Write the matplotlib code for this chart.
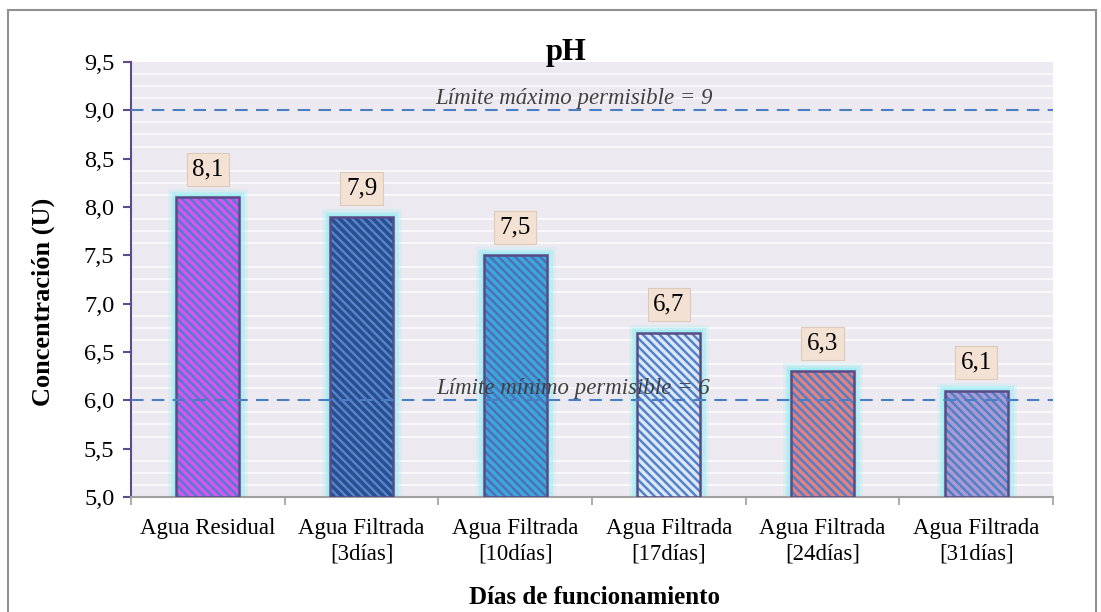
import matplotlib
matplotlib.use("Agg")
import matplotlib.pyplot as plt
from matplotlib.patches import Rectangle
import numpy as np

categories = ["Agua Residual", "Agua Filtrada\n[3días]", "Agua Filtrada\n[10días]",
              "Agua Filtrada\n[17días]", "Agua Filtrada\n[24días]", "Agua Filtrada\n[31días]"]
values = [8.1, 7.9, 7.5, 6.7, 6.3, 6.1]
value_labels = ["8,1", "7,9", "7,5", "6,7", "6,3", "6,1"]
yticks = [5.0, 5.5, 6.0, 6.5, 7.0, 7.5, 8.0, 8.5, 9.0, 9.5]
ytick_labels = ["5,0", "5,5", "6,0", "6,5", "7,0", "7,5", "8,0", "8,5", "9,0", "9,5"]
limit_max = 9
limit_min = 6

face_colors = ["#D455F2", "#2A4E8E", "#3CA8D8", "#DCE8F8", "#E08282", "#A99BD2"]
stripe_colors = ["#4F7FC8", "#5585CC", "#4E6EBA", "#4F80C8", "#4F7FC8", "#4F7FC8"]

plt.rcParams["font.family"] = ["Liberation Serif", "DejaVu Serif"]
plt.rcParams["hatch.linewidth"] = 1.7

fig = plt.figure(figsize=(11.01, 6.12), dpi=100)
ax = fig.add_axes([0.119, 0.188, 0.8374, 0.7107])

ax.set_facecolor("#ECEAF0")
ax.set_ylim(5.0, 9.5)
x = np.arange(len(categories))
ax.set_xlim(-0.5, len(categories) - 0.5)

# faint background stripes
ax.set_yticks(np.arange(5.0, 9.5, 0.125), minor=True)
ax.grid(True, which="minor", axis="y", color="white", linewidth=1.2, alpha=0.8)
ax.grid(False, which="major")
ax.set_axisbelow(True)

width = 0.41
heights = np.array(values) - 5.0
# glow
for lw, a in [(12, 0.2), (8, 0.35), (4, 0.6)]:
    ax.bar(x, heights, width, bottom=5.0, color="none",
           edgecolor="#8EEFF4", linewidth=lw, alpha=a, zorder=2)
# hatched fill
for i in range(len(values)):
    ax.bar(x[i], heights[i], width, bottom=5.0, color=face_colors[i],
           edgecolor=stripe_colors[i], linewidth=0, hatch="\\\\\\\\", zorder=3)
# outline
ax.bar(x, heights, width, bottom=5.0, color="none",
       edgecolor="#5A4A85", linewidth=1.8, zorder=4)

# data labels
for i, v in enumerate(values):
    ax.annotate(value_labels[i], (x[i], v), xytext=(0, 20), textcoords="offset points",
                ha="center", va="center", fontsize=18, color="black", zorder=6,
                bbox=dict(boxstyle="square,pad=0.22", fc="#F3E2D3", ec="#DCCBBB", lw=0.8))

# limit lines
ax.axhline(limit_max, color="#4A7EC4", linewidth=1.5, linestyle=(0, (6, 4)), zorder=5, clip_on=False)
ax.axhline(limit_min, color="#4A7EC4", linewidth=1.5, linestyle=(0, (6, 4)), zorder=5, clip_on=False)
ax.text(2.38, limit_max + 0.01, "Límite máximo permisible = 9", ha="center", va="bottom",
        fontsize=16.5, style="italic", color="#404040", zorder=6)
ax.text(2.38, limit_min + 0.01, "Límite mínimo permisible = 6", ha="center", va="bottom",
        fontsize=16.5, style="italic", color="#404040", zorder=6)

# axes styling
ax.set_yticks(yticks)
ax.set_yticklabels(ytick_labels, fontsize=17.5)
ax.set_xticks(x)
ax.set_xticklabels(categories, fontsize=16.5, linespacing=1.3)
ax.set_xticks(np.arange(-0.5, len(categories), 1.0), minor=True)
ax.tick_params(axis="x", which="major", length=0, pad=15)
ax.tick_params(axis="x", which="minor", length=6, color="#A0A0A0", width=1.2)
ax.tick_params(axis="y", which="major", length=6, color="#5F4B8B", width=1.5, direction="out", pad=6)
ax.tick_params(axis="y", which="minor", length=0)
for s in ["top", "right"]:
    ax.spines[s].set_visible(False)
ax.spines["left"].set_color("#5F4B8B")
ax.spines["left"].set_linewidth(1.5)
ax.spines["bottom"].set_color("#A0A0A0")
ax.spines["bottom"].set_linewidth(1.5)

fig.text(0.039, 0.507, "Concentración (U)", ha="center", va="center", rotation=90,
         fontsize=19, fontweight="bold")
fig.text(0.54, 0.023, "Días de funcionamiento", ha="center", va="center",
         fontsize=18, fontweight="bold")
fig.text(0.514, 0.915, "pH", ha="center", va="center", fontsize=22, fontweight="bold")

# outer border
fig.patches.append(Rectangle((0.0075, -0.01), 0.988, 0.9935, transform=fig.transFigure,
                             fill=False, edgecolor="#909090", linewidth=1.5))

fig.savefig("out.png", dpi=100)
